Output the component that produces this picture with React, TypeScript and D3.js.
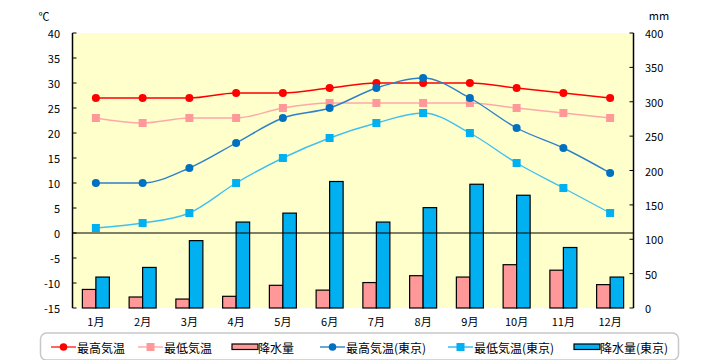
import React from "react";
import * as d3 from "d3";

const months = ["1月", "2月", "3月", "4月", "5月", "6月", "7月", "8月", "9月", "10月", "11月", "12月"];
const maxTemp = [27, 27, 27, 28, 28, 29, 30, 30, 30, 29, 28, 27];
const minTemp = [23, 22, 23, 23, 25, 26, 26, 26, 26, 25, 24, 23];
const precip = [27, 16, 13, 17, 33, 26, 37, 47, 45, 63, 55, 34];
const maxTempTokyo = [10, 10, 13, 18, 23, 25, 29, 31, 27, 21, 17, 12];
const minTempTokyo = [1, 2, 4, 10, 15, 19, 22, 24, 20, 14, 9, 4];
const precipTokyo = [45, 59, 98, 125, 138, 184, 125, 146, 180, 164, 88, 45];
const tempTicks = [40, 35, 30, 25, 20, 15, 10, 5, 0, -5, -10, -15];
const precipTicks = [400, 350, 300, 250, 200, 150, 100, 50, 0];

const FONT = "'Noto Sans CJK JP', 'Liberation Sans', sans-serif";

export default function App() {
  const left = 72.5, right = 633.5, top = 33, bottom = 308;
  const x = d3.scaleBand<string>().domain(months).range([left, right]);
  const yT = d3.scaleLinear().domain([-15, 40]).range([bottom, top]);
  const yP = d3.scaleLinear().domain([0, 400]).range([bottom, top]);
  const cx = (i: number) => (x(months[i]) as number) + x.bandwidth() / 2;
  const barW = 13.5;

  const line = (vals: number[]) =>
    d3.line<number>().x((_, i) => cx(i)).y((v) => yT(v)).curve(d3.curveMonotoneX)(vals) || "";

  const series = [
    { vals: maxTemp, color: "#FF0000", lineColor: "#FF0000", marker: "circle" },
    { vals: minTemp, color: "#FF9999", lineColor: "#FFA8A8", marker: "square" },
    { vals: maxTempTokyo, color: "#0070C0", lineColor: "#2E80C8", marker: "circle" },
    { vals: minTempTokyo, color: "#00B0F0", lineColor: "#40C0F0", marker: "square" },
  ];

  const legend = [
    { label: "最高気温", type: "circle", color: "#FF0000", x0: 51 },
    { label: "最低気温", type: "square", color: "#FF9999", x0: 138 },
    { label: "降水量", type: "bar", color: "#FF9999", x0: 232 },
    { label: "最高気温(東京)", type: "circle", color: "#0070C0", x0: 320 },
    { label: "最低気温(東京)", type: "square", color: "#00B0F0", x0: 448 },
    { label: "降水量(東京)", type: "bar", color: "#00B0F0", x0: 574 },
  ];

  return (
    <svg width={720} height={360} style={{ position: "absolute", left: 0, top: 0, background: "#fff" }} fontFamily={FONT}>
      <rect x={left} y={top} width={right - left} height={bottom - top} fill="#FFFFCC" />
      {precip.map((v, i) => (
        <rect key={"p" + i} x={cx(i) - barW} y={yP(v)} width={barW} height={bottom - yP(v)} fill="#FF9999" stroke="#000" strokeWidth={1.2} />
      ))}
      {precipTokyo.map((v, i) => (
        <rect key={"pt" + i} x={cx(i)} y={yP(v)} width={barW} height={bottom - yP(v)} fill="#00B0F0" stroke="#000" strokeWidth={1.2} />
      ))}
      <line x1={left} x2={right} y1={yT(0)} y2={yT(0)} stroke="#000" strokeWidth={1.2} />
      <line x1={left} x2={left} y1={top} y2={bottom} stroke="#000" strokeWidth={1.5} />
      <line x1={right} x2={right} y1={top} y2={bottom} stroke="#000" strokeWidth={1.5} />
      {tempTicks.map((t) => (
        <g key={"tt" + t}>
          <line x1={left} x2={left + 4} y1={yT(t)} y2={yT(t)} stroke="#000" />
          <text x={60} y={yT(t)} textAnchor="end" dominantBaseline="central" fontSize={11}>{t}</text>
        </g>
      ))}
      {precipTicks.map((t) => (
        <g key={"pp" + t}>
          <line x1={right - 4} x2={right} y1={yP(t)} y2={yP(t)} stroke="#000" />
          <text x={645} y={yP(t)} textAnchor="start" dominantBaseline="central" fontSize={11}>{t}</text>
        </g>
      ))}
      {months.map((m, i) => (
        <text key={m} x={cx(i)} y={321} textAnchor="middle" dominantBaseline="central" fontSize={11}>{m}</text>
      ))}
      <text x={44} y={16} textAnchor="middle" dominantBaseline="central" fontSize={11}>℃</text>
      <text x={659} y={15} textAnchor="middle" dominantBaseline="central" fontSize={11}>mm</text>
      {series.map((s, si) => (
        <g key={"s" + si}>
          <path d={line(s.vals)} fill="none" stroke={s.lineColor} strokeWidth={1.4} />
          {s.vals.map((v, i) =>
            s.marker === "circle" ? (
              <circle key={i} cx={cx(i)} cy={yT(v)} r={4} fill={s.color} />
            ) : (
              <rect key={i} x={cx(i) - 4} y={yT(v) - 4} width={8} height={8} fill={s.color} />
            )
          )}
        </g>
      ))}
      <rect x={40.5} y={333} width={638} height={27} rx={6} fill="#fff" stroke="#C8C8C8" strokeWidth={1.5} />
      {legend.map((l, i) => (
        <g key={"l" + i}>
          {l.type === "bar" ? (
            <rect x={l.x0} y={344} width={26} height={5.5} fill={l.color} stroke="#000" strokeWidth={1.2} />
          ) : (
            <>
              <line x1={l.x0} x2={l.x0 + 25} y1={347} y2={347} stroke={l.color} strokeWidth={1.2} />
              {l.type === "circle" ? (
                <circle cx={l.x0 + 12.5} cy={347} r={3.8} fill={l.color} />
              ) : (
                <rect x={l.x0 + 8.5} y={343} width={8} height={8} fill={l.color} />
              )}
            </>
          )}
          <text x={l.x0 + 26} y={347.5} dominantBaseline="central" fontSize={12}>{l.label}</text>
        </g>
      ))}
    </svg>
  );
}
